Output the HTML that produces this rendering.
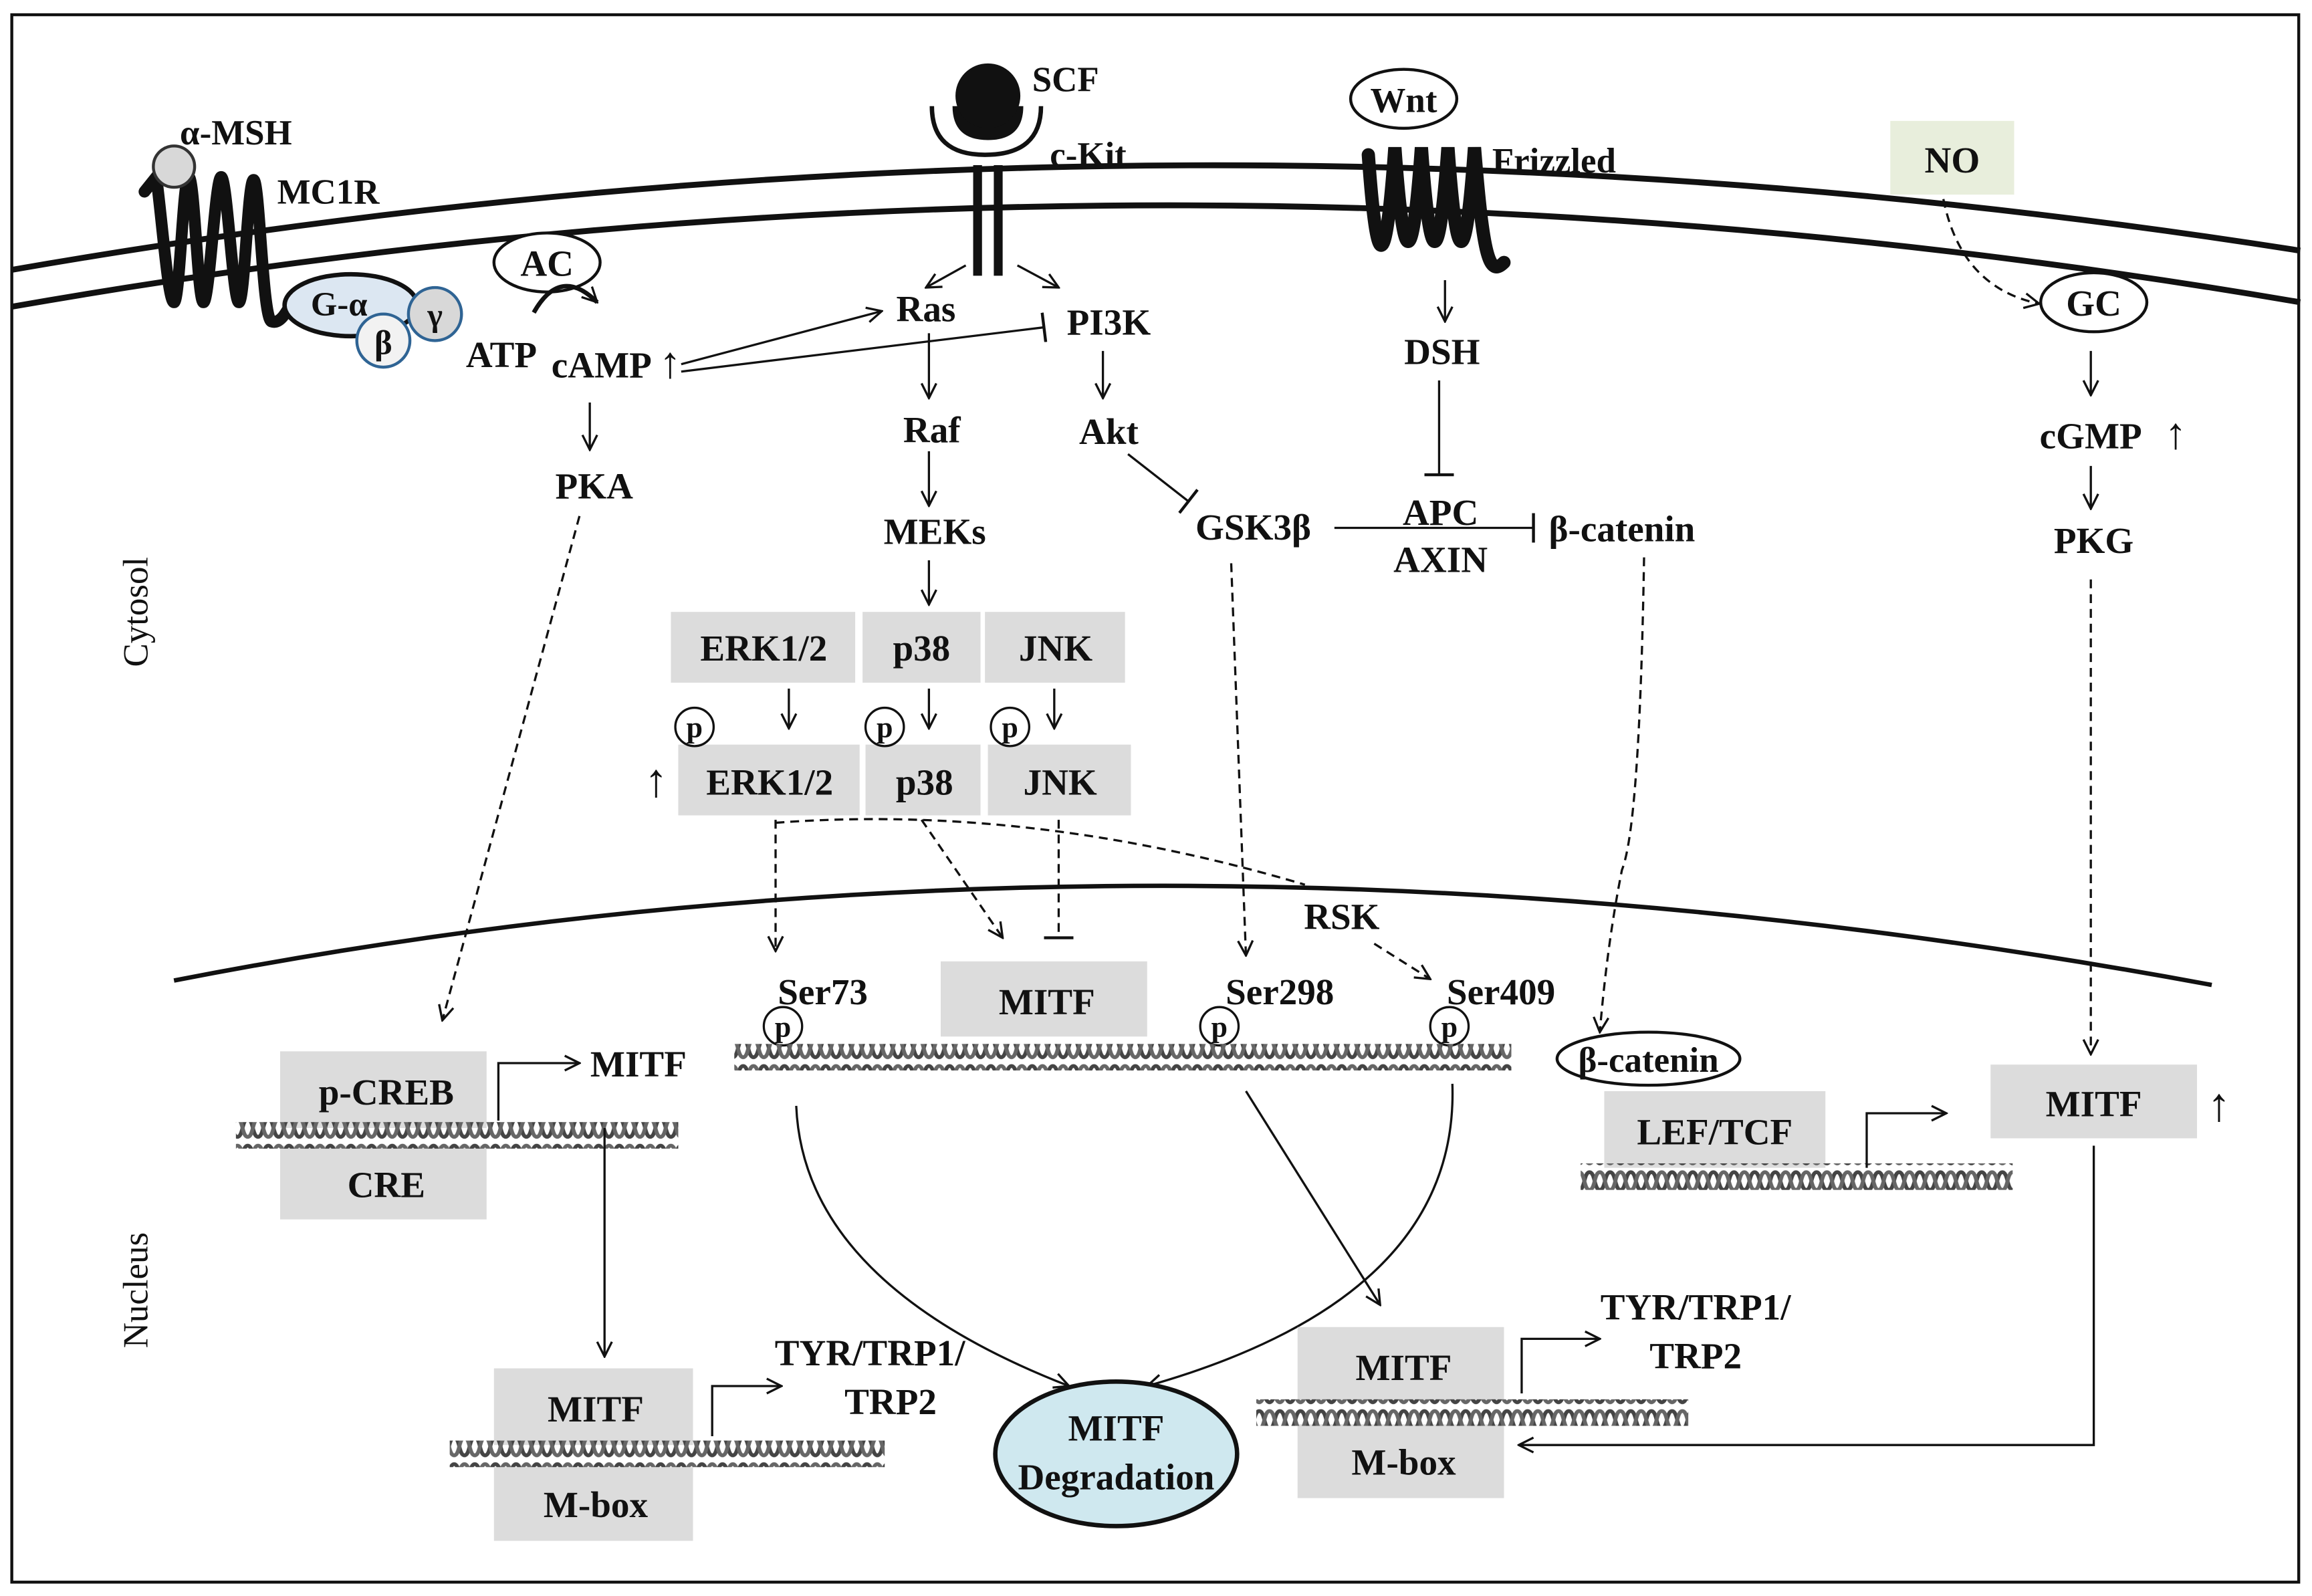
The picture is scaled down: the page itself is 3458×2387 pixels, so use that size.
<!DOCTYPE html>
<html><head><meta charset="utf-8">
<style>
html,body{margin:0;padding:0;background:#fff;}
svg{display:block;}
text{font-family:"Liberation Serif",serif;font-weight:bold;fill:#111;}
</style></head>
<body>
<svg width="3458" height="2387" viewBox="0 0 1568 1082.4" preserveAspectRatio="none" xmlns="http://www.w3.org/2000/svg">
<defs>
<marker id="a" viewBox="0 0 12 12" refX="11" refY="6" markerWidth="12" markerHeight="12" markerUnits="userSpaceOnUse" orient="auto">
<path d="M1,1 L11,6 L1,11" fill="none" stroke="#111" stroke-width="1.5"/></marker>
<marker id="t" viewBox="0 0 4 20" refX="2" refY="10" markerWidth="4" markerHeight="20" markerUnits="userSpaceOnUse" orient="auto">
<path d="M2,0 L2,20" stroke="#111" stroke-width="2"/></marker>
<pattern id="dna" width="14" height="18" patternUnits="userSpaceOnUse">
<path d="M0,3 C4,3 3,15 7,15 C11,15 10,3 14,3" fill="none" stroke="#444" stroke-width="2.6"/>
<path d="M0,15 C4,15 3,3 7,3 C11,3 10,15 14,15" fill="none" stroke="#666" stroke-width="2.6"/>
</pattern>
</defs>
<rect x="0" y="0" width="1568" height="1083" fill="#fff"/>
<rect x="8" y="10" width="1551" height="1063" fill="none" stroke="#111" stroke-width="2"/>

<path d="M8,183 Q784,48 1560,170" fill="none" stroke="#111" stroke-width="4"/>
<path d="M8,208 Q784,72 1560,205" fill="none" stroke="#111" stroke-width="4"/>
<path d="M118,665 Q784,535 1500,668" fill="none" stroke="#111" stroke-width="3"/>

<text x="100" y="415" font-size="24" style="font-weight:normal" transform="rotate(-90 100 415)" text-anchor="middle">Cytosol</text>
<text x="100" y="875" font-size="24" style="font-weight:normal" transform="rotate(-90 100 875)" text-anchor="middle">Nucleus</text>

<!-- MC1R -->
<path d="M98,130 L106,120 C110,150 114,205 118,205 C122,205 124,120 128,120 C132,120 134,205 138,205 C142,205 146,120 150,120 C154,120 158,205 162,205 C166,205 168,122 172,122 C176,122 178,215 184,218 C190,220 194,212 198,205" fill="none" stroke="#111" stroke-width="8" stroke-linecap="round"/>
<circle cx="118" cy="113" r="14" fill="#d8d8d8" stroke="#333" stroke-width="2"/>
<text x="122" y="98" font-size="24">α-MSH</text>
<text x="188" y="138" font-size="24">MC1R</text>
<ellipse cx="238" cy="207" rx="45" ry="21" fill="#dce7f2" stroke="#111" stroke-width="3"/>
<text x="230" y="214" font-size="23" text-anchor="middle">G-α</text>
<circle cx="295" cy="213" r="18" fill="#d8d8d8" stroke="#2f6494" stroke-width="2"/>
<text x="295" y="221" font-size="22" text-anchor="middle">γ</text>
<circle cx="260" cy="231" r="18" fill="#f2f2f2" stroke="#2f6494" stroke-width="2"/>
<text x="260" y="240" font-size="23" text-anchor="middle">β</text>
<ellipse cx="371" cy="178" rx="36" ry="20" fill="#fff" stroke="#111" stroke-width="2"/>
<text x="371" y="187" font-size="25" text-anchor="middle">AC</text>
<path d="M362,212 Q380,180 405,205" fill="none" stroke="#111" stroke-width="3" marker-end="url(#a)"/>
<text x="316" y="249" font-size="25">ATP</text>
<text x="374" y="256" font-size="25">cAMP</text>
<text x="447" y="256" font-size="30" style="font-weight:normal">↑</text>

<!-- c-Kit -->
<path d="M632,72 Q632,105 668,105 Q706,105 706,72" fill="none" stroke="#111" stroke-width="3"/>
<path d="M646,72 Q646,95 670,95 Q694,95 694,72 Z" fill="#111"/>
<circle cx="670" cy="65" r="22" fill="#111"/>
<rect x="660" y="112" width="6" height="75" fill="#111"/>
<rect x="674" y="112" width="6" height="75" fill="#111"/>
<text x="700" y="62" font-size="24">SCF</text>
<text x="712" y="113" font-size="24">c-Kit</text>
<line x1="655" y1="180" x2="628" y2="195" stroke="#111" stroke-width="1.5" marker-end="url(#a)"/>
<line x1="690" y1="180" x2="718" y2="195" stroke="#111" stroke-width="1.5" marker-end="url(#a)"/>
<text x="628" y="218" font-size="25" text-anchor="middle">Ras</text>
<text x="752" y="227" font-size="25" text-anchor="middle">PI3K</text>
<line x1="462" y1="247" x2="598" y2="211" stroke="#111" stroke-width="1.5" marker-end="url(#a)"/>
<line x1="462" y1="252" x2="708" y2="222" stroke="#111" stroke-width="1.5" marker-end="url(#t)"/>
<line x1="630" y1="226" x2="630" y2="270" stroke="#111" stroke-width="1.5" marker-end="url(#a)"/>
<text x="632" y="300" font-size="25" text-anchor="middle">Raf</text>
<line x1="630" y1="306" x2="630" y2="343" stroke="#111" stroke-width="1.5" marker-end="url(#a)"/>
<text x="634" y="369" font-size="25" text-anchor="middle">MEKs</text>
<line x1="630" y1="380" x2="630" y2="410" stroke="#111" stroke-width="1.5" marker-end="url(#a)"/>
<line x1="748" y1="238" x2="748" y2="270" stroke="#111" stroke-width="1.5" marker-end="url(#a)"/>
<text x="752" y="301" font-size="25" text-anchor="middle">Akt</text>
<line x1="765" y1="308" x2="806" y2="340" stroke="#111" stroke-width="1.5" marker-end="url(#t)"/>
<text x="850" y="366" font-size="25" text-anchor="middle">GSK3β</text>

<!-- Frizzled -->
<path d="M928,105 C934,190 940,185 946,100 C952,185 958,185 964,100 C970,185 976,185 982,100 C988,185 994,185 1000,100 C1006,175 1010,188 1020,178" fill="none" stroke="#111" stroke-width="9" stroke-linecap="round"/>
<ellipse cx="952" cy="67" rx="36" ry="20" fill="#fff" stroke="#111" stroke-width="2"/>
<text x="952" y="76" font-size="24" text-anchor="middle">Wnt</text>
<text x="1012" y="117" font-size="24">Frizzled</text>
<line x1="980" y1="190" x2="980" y2="218" stroke="#111" stroke-width="1.5" marker-end="url(#a)"/>
<text x="978" y="247" font-size="25" text-anchor="middle">DSH</text>
<line x1="976" y1="258" x2="976" y2="322" stroke="#111" stroke-width="1.5" marker-end="url(#t)"/>
<text x="977" y="356" font-size="25" text-anchor="middle">APC</text>
<text x="977" y="388" font-size="25" text-anchor="middle">AXIN</text>
<line x1="905" y1="358" x2="1040" y2="358" stroke="#111" stroke-width="1.5" marker-end="url(#t)"/>
<text x="1100" y="367" font-size="25" text-anchor="middle">β-catenin</text>

<!-- NO/GC -->
<rect x="1282" y="82" width="84" height="50" fill="#e8eedc"/>
<text x="1324" y="117" font-size="25" text-anchor="middle">NO</text>
<path d="M1318,135 Q1330,195 1383,206" fill="none" stroke="#111" stroke-width="1.5" stroke-dasharray="6,4" marker-end="url(#a)"/>
<ellipse cx="1420" cy="205" rx="36" ry="20" fill="#fff" stroke="#111" stroke-width="2"/>
<text x="1420" y="214" font-size="25" text-anchor="middle">GC</text>
<line x1="1418" y1="238" x2="1418" y2="268" stroke="#111" stroke-width="1.5" marker-end="url(#a)"/>
<text x="1418" y="304" font-size="25" text-anchor="middle">cGMP</text>
<text x="1468" y="304" font-size="30" style="font-weight:normal">↑</text>
<line x1="1418" y1="316" x2="1418" y2="345" stroke="#111" stroke-width="1.5" marker-end="url(#a)"/>
<text x="1420" y="375" font-size="25" text-anchor="middle">PKG</text>
<line x1="1418" y1="393" x2="1418" y2="715" stroke="#111" stroke-width="1.5" stroke-dasharray="6,4" marker-end="url(#a)"/>

<!-- PKA -->
<line x1="400" y1="273" x2="400" y2="305" stroke="#111" stroke-width="1.5" marker-end="url(#a)"/>
<text x="403" y="338" font-size="25" text-anchor="middle">PKA</text>
<line x1="393" y1="350" x2="300" y2="692" stroke="#111" stroke-width="1.5" stroke-dasharray="6,4" marker-end="url(#a)"/>

<g fill="#dcdcdc">
<rect x="455" y="415" width="125" height="48"/>
<rect x="585" y="415" width="80" height="48"/>
<rect x="668" y="415" width="95" height="48"/>
<rect x="460" y="505" width="123" height="48"/>
<rect x="587" y="505" width="78" height="48"/>
<rect x="670" y="505" width="97" height="48"/>
</g>
<text x="518" y="448" font-size="25" text-anchor="middle">ERK1/2</text>
<text x="625" y="448" font-size="25" text-anchor="middle">p38</text>
<text x="716" y="448" font-size="25" text-anchor="middle">JNK</text>
<text x="522" y="539" font-size="25" text-anchor="middle">ERK1/2</text>
<text x="627" y="539" font-size="25" text-anchor="middle">p38</text>
<text x="719" y="539" font-size="25" text-anchor="middle">JNK</text>
<text x="445" y="540" font-size="32" text-anchor="middle" style="font-weight:normal">↑</text>
<line x1="535" y1="467" x2="535" y2="494" stroke="#111" stroke-width="1.5" marker-end="url(#a)"/>
<line x1="630" y1="467" x2="630" y2="494" stroke="#111" stroke-width="1.5" marker-end="url(#a)"/>
<line x1="715" y1="467" x2="715" y2="494" stroke="#111" stroke-width="1.5" marker-end="url(#a)"/>
<g fill="#fff" stroke="#111" stroke-width="1.5">
<circle cx="471" cy="493" r="13"/><circle cx="600" cy="493" r="13"/><circle cx="685" cy="493" r="13"/>
<circle cx="531" cy="696" r="13"/><circle cx="827" cy="696" r="13"/><circle cx="983" cy="696" r="13"/>
</g>
<g font-size="20" text-anchor="middle">
<text x="471" y="500">p</text><text x="600" y="500">p</text><text x="685" y="500">p</text>
<text x="531" y="703">p</text><text x="827" y="703">p</text><text x="983" y="703">p</text>
</g>

<path d="M526,556 L526,645" fill="none" stroke="#111" stroke-width="1.5" stroke-dasharray="6,4" marker-end="url(#a)"/>
<path d="M526,558 Q700,545 885,600" fill="none" stroke="#111" stroke-width="1.5" stroke-dasharray="6,4"/>
<line x1="932" y1="640" x2="970" y2="664" stroke="#111" stroke-width="1.5" stroke-dasharray="6,4" marker-end="url(#a)"/>
<text x="910" y="630" font-size="25" text-anchor="middle">RSK</text>
<line x1="625" y1="556" x2="680" y2="636" stroke="#111" stroke-width="1.5" stroke-dasharray="6,4" marker-end="url(#a)"/>
<line x1="718" y1="556" x2="718" y2="636" stroke="#111" stroke-width="1.5" stroke-dasharray="6,4" marker-end="url(#t)"/>
<line x1="835" y1="382" x2="845" y2="648" stroke="#111" stroke-width="1.5" stroke-dasharray="6,4" marker-end="url(#a)"/>
<path d="M1115,378 Q1112,560 1100,590 Q1090,640 1085,700" fill="none" stroke="#111" stroke-width="1.5" stroke-dasharray="6,4" marker-end="url(#a)"/>

<rect x="638" y="652" width="140" height="51" fill="#dcdcdc"/>
<text x="710" y="688" font-size="25" text-anchor="middle">MITF</text>
<text x="558" y="681" font-size="25" text-anchor="middle">Ser73</text>
<text x="868" y="681" font-size="25" text-anchor="middle">Ser298</text>
<text x="1018" y="681" font-size="25" text-anchor="middle">Ser409</text>
<rect x="498" y="708" width="527" height="18" fill="url(#dna)"/>

<rect x="190" y="713" width="140" height="52" fill="#dcdcdc"/>
<rect x="190" y="777" width="140" height="50" fill="#dcdcdc"/>
<rect x="160" y="761" width="300" height="18" fill="url(#dna)"/>
<text x="262" y="749" font-size="25" text-anchor="middle">p-CREB</text>
<text x="262" y="812" font-size="25" text-anchor="middle">CRE</text>
<path d="M338,760 L338,721 L393,721" fill="none" stroke="#111" stroke-width="1.5" marker-end="url(#a)"/>
<text x="433" y="730" font-size="25" text-anchor="middle">MITF</text>
<line x1="410" y1="765" x2="410" y2="920" stroke="#111" stroke-width="1.5" marker-end="url(#a)"/>

<rect x="335" y="928" width="135" height="52" fill="#dcdcdc"/>
<rect x="335" y="995" width="135" height="50" fill="#dcdcdc"/>
<rect x="305" y="977" width="295" height="18" fill="url(#dna)"/>
<text x="404" y="964" font-size="25" text-anchor="middle">MITF</text>
<text x="404" y="1029" font-size="25" text-anchor="middle">M-box</text>
<path d="M483,974 L483,940 L530,940" fill="none" stroke="#111" stroke-width="1.5" marker-end="url(#a)"/>
<text x="590" y="926" font-size="25" text-anchor="middle">TYR/TRP1/</text>
<text x="604" y="959" font-size="25" text-anchor="middle">TRP2</text>

<path d="M540,750 Q545,870 725,940" fill="none" stroke="#111" stroke-width="1.5" marker-end="url(#a)"/>
<path d="M985,735 Q990,880 778,940" fill="none" stroke="#111" stroke-width="1.5" marker-end="url(#a)"/>
<line x1="845" y1="740" x2="936" y2="885" stroke="#111" stroke-width="1.5" marker-end="url(#a)"/>
<ellipse cx="757" cy="986" rx="82" ry="49" fill="#cfe8ef" stroke="#111" stroke-width="3"/>
<text x="757" y="977" font-size="25" text-anchor="middle">MITF</text>
<text x="757" y="1010" font-size="25" text-anchor="middle">Degradation</text>

<rect x="880" y="900" width="140" height="50" fill="#dcdcdc"/>
<rect x="880" y="966" width="140" height="50" fill="#dcdcdc"/>
<rect x="852" y="949" width="293" height="18" fill="url(#dna)"/>
<text x="952" y="936" font-size="25" text-anchor="middle">MITF</text>
<text x="952" y="1000" font-size="25" text-anchor="middle">M-box</text>
<path d="M1032,945 L1032,908 L1085,908" fill="none" stroke="#111" stroke-width="1.5" marker-end="url(#a)"/>
<text x="1150" y="895" font-size="25" text-anchor="middle">TYR/TRP1/</text>
<text x="1150" y="928" font-size="25" text-anchor="middle">TRP2</text>

<ellipse cx="1118" cy="718" rx="62" ry="18" fill="#fff" stroke="#111" stroke-width="2"/>
<text x="1118" y="727" font-size="24" text-anchor="middle">β-catenin</text>
<rect x="1088" y="740" width="150" height="52" fill="#dcdcdc"/>
<text x="1163" y="776" font-size="25" text-anchor="middle">LEF/TCF</text>
<rect x="1072" y="789" width="293" height="18" fill="url(#dna)"/>
<path d="M1266,792 L1266,755 L1320,755" fill="none" stroke="#111" stroke-width="1.5" marker-end="url(#a)"/>
<rect x="1350" y="722" width="140" height="50" fill="#dcdcdc"/>
<text x="1420" y="757" font-size="25" text-anchor="middle">MITF</text>
<text x="1505" y="760" font-size="32" text-anchor="middle" style="font-weight:normal">↑</text>
<path d="M1420,777 L1420,980 L1030,980" fill="none" stroke="#111" stroke-width="1.5" marker-end="url(#a)"/>
</svg>
</body></html>
